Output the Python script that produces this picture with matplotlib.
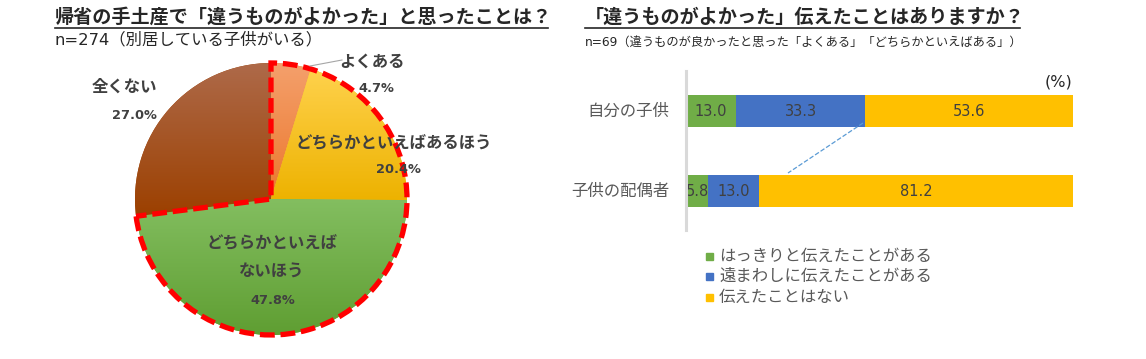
import numpy as np
import matplotlib
matplotlib.use('Agg')
import matplotlib.pyplot as plt
from matplotlib.patches import Wedge, Rectangle
from matplotlib.lines import Line2D
from matplotlib.colors import LinearSegmentedColormap

plt.rcParams['font.family'] = ['Noto Sans CJK JP', 'DejaVu Sans']
MIX = ['DejaVu Sans', 'Noto Sans CJK JP']   # latin ancho + japones

# --- datos ---
pie_labels = ['よくある', 'どちらかといえばあるほう', 'どちらかといえばないほう', '全くない']
pie_values = [4.7, 20.4, 47.8, 27.0]
pie_top = ['#F4A06C', '#FFD24D', '#83BE60', '#AE6A4A']
pie_bottom = ['#EC772C', '#EDB200', '#5F9E32', '#9C4000']

bar_categories = ['自分の子供', '子供の配偶者']
clearly_told = [13.0, 5.8]
indirectly_told = [33.3, 13.0]
never_told = [53.6, 81.2]
bar_series = ['はっきりと伝えたことがある', '遠まわしに伝えたことがある', '伝えたことはない']
bar_colors = ['#70AD47', '#4472C4', '#FFC000']

W, H = 1146, 359
fig = plt.figure(figsize=(W / 100, H / 100), dpi=100)


def fx(x):
    return x / W


def fy(y):
    return 1 - y / H


dark = '#404040'
gray = '#595959'

# titulos
fig.text(fx(55), fy(17), '帰省の手土産で「違うものがよかった」と思ったことは？', fontsize=13.75,
         fontweight='bold', color='#262626', va='center', ha='left')
fig.add_artist(Line2D([fx(55), fx(548)], [fy(28), fy(28)], color='#262626', lw=1.2))
fig.text(fx(55), fy(40), 'n=274（別居している子供がいる）', fontsize=11.8, color='#262626',
         va='center', ha='left', family=MIX)

fig.text(fx(585), fy(17), '「違うものがよかった」伝えたことはありますか？', fontsize=13.75,
         fontweight='bold', color='#262626', va='center', ha='left')
fig.add_artist(Line2D([fx(585), fx(1020)], [fy(28), fy(28)], color='#262626', lw=1.2))
fig.text(fx(585), fy(42), 'n=69（違うものが良かったと思った「よくある」「どちらかといえばある」）',
         fontsize=8.8, color='#262626', va='center', ha='left', family=MIX)

# --- grafico de torta ---
cx, cy, r = 271, 199, 136
pad = 1.04
ax1 = fig.add_axes([fx(cx - r * pad), fy(cy + r * pad), 2 * r * pad / W, 2 * r * pad / H])
wedges, _ = ax1.pie(pie_values, startangle=90, counterclock=False, radius=1,
                    colors=pie_bottom, wedgeprops=dict(linewidth=0))
grad = np.linspace(0, 1, 256).reshape(-1, 1)
for w, ct, cb in zip(wedges, pie_top, pie_bottom):
    bb = w.get_path().get_extents()
    cmap = LinearSegmentedColormap.from_list('g', [ct, cb])
    im = ax1.imshow(grad, cmap=cmap, extent=[bb.x0, bb.x1, bb.y0, bb.y1],
                    aspect='auto', origin='upper', zorder=1)
    im.set_clip_path(w)

# borde rojo punteado alrededor de "ある" + "ないほう"
total = sum(pie_values)
span = sum(pie_values[:3]) / total * 360
ax1.add_patch(Wedge((0, 0), 1.0, 90 - span, 90, fill=False, edgecolor='#FF0000',
                    lw=3.8, ls=(0, (2.8, 1.1)), zorder=3))
ax1.set_xlim(-pad, pad)
ax1.set_ylim(-pad, pad)
ax1.set_aspect('equal')
ax1.axis('off')

lab = dict(color=dark, fontweight='bold', ha='center', va='center')
pct = dict(color=dark, fontweight='bold', ha='center', va='center', fontsize=9.3,
           family='DejaVu Sans')
fig.text(fx(372), fy(62), pie_labels[0], fontsize=11.8, **lab)
fig.text(fx(376), fy(89), f'{pie_values[0]:.1f}%', **pct)
fig.add_artist(Line2D([fx(310), fx(342)], [fy(66), fy(60)], color='#A6A6A6', lw=0.8))
fig.text(fx(394), fy(143), pie_labels[1], fontsize=11.8, **lab)
fig.text(fx(398), fy(170), f'{pie_values[1]:.1f}%', **pct)
fig.text(fx(272), fy(243), 'どちらかといえば', fontsize=11.8, **lab)
fig.text(fx(272), fy(272), 'ないほう', fontsize=11.8, **lab)
fig.text(fx(273), fy(300), f'{pie_values[2]:.1f}%', **pct)
fig.text(fx(124), fy(87), pie_labels[3], fontsize=11.8, **lab)
fig.text(fx(134), fy(115), f'{pie_values[3]:.1f}%', **pct)

# --- barras apiladas ---
ax2 = fig.add_axes([fx(686), fy(220), (1073 - 686) / W, (220 - 80) / H])
ypos = np.arange(len(bar_categories))
left = np.zeros(len(bar_categories))
for vals, col in zip([clearly_told, indirectly_told, never_told], bar_colors):
    vals = np.array(vals)
    ax2.barh(ypos, vals, left=left, height=0.4, color=col, edgecolor='none')
    for y, l, v in zip(ypos, left, vals):
        ax2.text(l + v / 2, y, f'{v:.1f}', ha='center', va='center', fontsize=10.5,
                 color=dark, family='DejaVu Sans')
    left += vals
ax2.set_xlim(0, 100)
ax2.set_ylim(1.3625, -0.3875)
for s in ax2.spines.values():
    s.set_visible(False)
ax2.set_xticks([])
ax2.set_yticks([])
for y, c in zip(ypos, bar_categories):
    ax2.text(-4.2, y, c, ha='right', va='center', fontsize=11.8, color=gray)

fig.add_artist(Line2D([fx(686), fx(686)], [fy(71), fy(230)], color='#D9D9D9', lw=2.2))
# linea de serie
fig.add_artist(Line2D([fx(863), fx(788)], [fy(123), fy(173)], color='#5B9BD5', lw=0.9, ls='--'))
fig.text(fx(1059), fy(82), '(%)', fontsize=11.5, color='#262626', ha='center', va='center',
         family='DejaVu Sans')

# leyenda
for i, (name, col) in enumerate(zip(bar_series, bar_colors)):
    yy = 256 + i * 20.5
    fig.add_artist(Rectangle((fx(706), fy(yy + 3.5)), 7 / W, 7 / H, color=col,
                             transform=fig.transFigure))
    fig.text(fx(719), fy(yy), name, fontsize=11.8, color=gray, ha='left', va='center')

fig.savefig('out.png', dpi=100)
